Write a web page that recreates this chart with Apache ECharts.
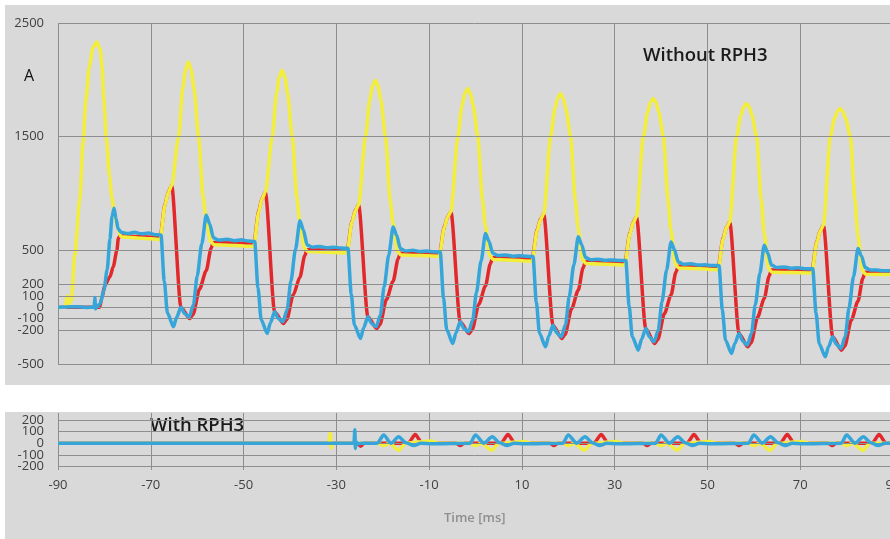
<!DOCTYPE html>
<html>
<head>
<meta charset="utf-8">
<title>RPH3</title>
<script src="https://cdn.jsdelivr.net/npm/echarts@6/dist/echarts.min.js"></script>
<style>
  html, body { margin: 0; padding: 0; background: #fff; }
  #main { width: 890px; height: 539px; }
</style>
</head>
<body>
<div id="main"></div>
<script>
// tick labels
var topTicks = [2500, 1500, 500, 200, 100, 0, -100, -200, -500];
var lowTicks = [200, 100, 0, -100, -200];

// Without RPH3 : [time ms, value]
var yellowTop = [
  [-90,0],[-88.4,0],[-88.0,100],[-87.6,30],[-87.1,60],[-86.4,450],[-85.3,950],[-84.6,1450],[-84.0,1820],[-83.25,2115],[-82.5,2280],[-81.65,2333],[-80.9,2270],[-80.5,2115],[-80.1,1820],[-79.6,1500],[-78.9,1150],[-78.4,970],[-77.8,800],[-77.0,677],[-76.4,620],[-72,607],
  [-68.0,595],[-66.9,904],[-66.2,1013],[-65.5,1070],[-64.0,1500],[-63.1,1927],[-62.5,2091],[-61.9,2157],[-61.3,2091],[-60.7,1927],[-59.7,1500],[-58.7,970],[-58.1,780],[-57.1,580],[-56.4,550],
  [-47.8,535],[-46.7,844],[-46.0,953],[-45.3,1010],[-43.8,1500],[-42.9,1880],[-42.3,2026],[-41.7,2084],[-41.1,2026],[-40.5,1880],[-39.5,1500],[-38.5,960],[-37.9,760],[-36.9,520],[-36.2,490],
  [-27.7,478],[-26.6,752],[-25.9,849],[-25.2,900],[-23.7,1500],[-22.8,1822],[-22.2,1946],[-21.6,1996],[-21.0,1946],[-20.4,1822],[-19.4,1500],[-18.4,950],[-17.8,740],[-16.8,490],[-16.1,460],
  [-7.8,448],[-6.7,703],[-6.0,793],[-5.3,840],[-3.8,1500],[-2.9,1775],[-2.3,1881],[-1.7,1923],[-1.1,1881],[-0.5,1775],[0.5,1500],[1.5,950],[2.1,720],[3.1,450],[3.8,420],
  [12.2,405],[13.3,675],[14.0,770],[14.7,820],[16.2,1500],[17.1,1746],[17.7,1841],[18.3,1879],[18.9,1841],[19.5,1746],[20.5,1500],[21.5,950],[22.1,700],[23.1,414],[23.8,384],
  [32.2,372],[33.3,647],[34.0,744],[34.7,795],[36.2,1500],[37.1,1718],[37.7,1802],[38.3,1835],[38.9,1802],[39.5,1718],[40.5,1500],[41.5,950],[42.1,680],[43.1,375],[43.8,345],
  [52.3,330],[53.4,603],[54.1,700],[54.8,750],[56.3,1500],[57.2,1689],[57.8,1762],[58.4,1791],[59.0,1762],[59.6,1689],[60.6,1500],[61.6,950],[62.2,660],[63.2,338],[63.9,308],
  [72.5,300],[73.6,573],[74.3,670],[75.0,720],[76.5,1500],[77.4,1661],[78.0,1722],[78.6,1747],[79.2,1722],[79.8,1661],[80.8,1500],[81.8,950],[82.4,640],[83.4,320],[84.1,290],[90,286]
];

var redTop = [
  [-90,0],[-81,0],[-80.5,90],[-79.9,193],[-78.8,267],[-78.1,355],[-77.3,501],[-77.0,604],[-76.6,628],[-72,620],
  [-68.0,612],[-66.9,910],[-66.2,1015],[-65.5,1070],[-63.5,0],[-61.6,-100],[-60.9,-65],[-59.5,157],[-58.05,321],[-57.0,518],[-56.5,570],
  [-47.8,560],[-46.7,853],[-46.0,956],[-45.3,1010],[-43.3,-41],[-41.4,-144],[-40.7,-109],[-39.3,106],[-37.85,264],[-36.8,454],[-36.3,505],
  [-27.7,498],[-26.6,759],[-25.9,852],[-25.2,900],[-23.2,-85],[-21.3,-188],[-20.6,-153],[-19.2,67],[-17.75,229],[-16.7,423],[-16.2,475],
  [-7.8,465],[-6.7,709],[-6.0,795],[-5.3,840],[-3.3,-129],[-1.4,-232],[-0.7,-197],[0.7,24],[2.15,187],[3.2,383],[3.7,435],
  [12.2,428],[13.3,683],[14.0,773],[14.7,820],[16.7,-158],[18.6,-276],[19.3,-241],[20.7,-16],[22.15,149],[23.2,347],[23.7,400],
  [32.2,392],[33.3,654],[34.0,747],[34.7,795],[36.7,-188],[38.6,-320],[39.3,-285],[40.7,-59],[42.15,107],[43.2,307],[43.7,360],
  [52.3,350],[53.4,610],[54.1,702],[54.8,750],[56.8,-231],[58.7,-349],[59.4,-314],[60.8,-89],[62.25,76],[63.3,275],[63.8,328],
  [72.5,320],[73.6,580],[74.3,672],[75.0,720],[77.0,-261],[78.9,-378],[79.6,-343],[81.0,-115],[82.45,53],[83.5,254],[84.0,308],[90,302]
];

var blueTop = [
  [-90,0],[-86,4],[-84,-3],[-82.2,0],[-82.05,85],[-81.9,-15],[-81.7,5],[-80.9,30],[-80.1,150],[-79.4,330],[-78.8,600],[-78.35,800],[-77.9,870],[-77.5,780],[-77.05,690],[-76.4,660],[-75,648],[-73.5,658],[-72,645],[-70.5,652],[-69,638],
  [-67.8,635],[-67.1,231],[-66.4,-52],[-65.1,-173],[-64.4,-87],[-63.5,0],[-62.7,-57],[-61.7,-85],[-60.8,22],[-60.0,273],[-59.0,559],[-58.05,809],[-57.3,732],[-56.5,610],[-55.4,590],[-53.5,598],[-52,585],[-50.5,594],[-49,582],
  [-47.6,578],[-46.9,174],[-46.2,-110],[-44.9,-231],[-44.2,-136],[-43.3,-41],[-42.5,-100],[-41.5,-129],[-40.6,-22],[-39.8,227],[-38.8,511],[-37.85,760],[-37.1,679],[-36.3,548],[-35.2,528],[-33.5,534],[-32,522],[-30.5,528],[-29,520],
  [-27.5,518],[-26.8,121],[-26.1,-157],[-24.8,-276],[-24.1,-180],[-23.2,-85],[-22.4,-144],[-21.4,-173],[-20.5,-68],[-19.7,179],[-18.7,460],[-17.75,706],[-17.0,632],[-16.2,515],[-15.1,495],[-13.5,500],[-12,490],[-10.5,494],[-9,487],
  [-7.6,485],[-6.9,82],[-6.2,-199],[-4.9,-320],[-4.2,-225],[-3.3,-129],[-2.5,-188],[-1.5,-217],[-0.6,-113],[0.2,129],[1.2,406],[2.15,648],[2.9,580],[3.7,475],[4.8,455],[6.5,460],[8,449],[9.5,453],[11,447],
  [12.4,445],[13.1,48],[13.8,-230],[15.1,-349],[15.8,-254],[16.7,-158],[17.5,-225],[18.5,-261],[19.4,-155],[20.2,91],[21.2,373],[22.15,619],[22.9,549],[23.7,438],[24.8,418],[26.5,422],[28,412],[29.5,416],[31,410],
  [32.4,410],[33.1,16],[33.8,-260],[35.1,-378],[35.8,-283],[36.7,-188],[37.5,-262],[38.5,-305],[39.4,-200],[40.2,47],[41.2,328],[42.15,574],[42.9,505],[43.7,398],[44.8,378],[46.5,382],[48,370],[49.5,373],[51,366],
  [52.5,365],[53.2,-21],[53.9,-291],[55.2,-407],[55.9,-319],[56.8,-231],[57.6,-297],[58.6,-334],[59.5,-229],[60.3,18],[61.3,299],[62.25,545],[63.0,477],[63.8,370],[64.9,350],[66.5,354],[68,343],[69.5,346],[71,339],
  [72.7,338],[73.4,-50],[74.1,-321],[75.4,-437],[76.1,-349],[77.0,-261],[77.8,-327],[78.8,-363],[79.7,-258],[80.5,-11],[81.5,270],[82.45,516],[83.2,450],[84.0,348],[85.1,328],[86.5,326],[88,321],[90,320]
];

// With RPH3
var yellowLow = [
  [-90,0],[-31.6,0],[-31.3,90],[-31.1,-40],[-30.8,0],[-21,0],[-19.8,-20],[-18.5,0],[-16.6,-60],[-15,0],[-9.7,20],[-8,0],
  [-1.2,0],[0,-20],[1.3,0],[3.5,-60],[5,0],[10.4,15],[12,0],
  [18.8,0],[20,-20],[21.3,0],[23.5,-60],[25,0],[30.3,15],[32,0],
  [38.8,0],[40,-20],[41.3,0],[43.5,-60],[45,0],[50.3,15],[52,0],
  [58.8,0],[60,-20],[61.3,0],[63.5,-60],[65,0],[70.3,15],[72,0],
  [78.8,0],[80,-20],[81.3,0],[83.5,-60],[85,0],[90,0]
];
var redLow = [
  [-90,0],[-25.5,0],[-24.8,-25],[-24.0,0],[-14.5,0],[-13.0,75],[-11.5,0],[-4.2,0],[-3.3,-20],[-2.4,0],
  [5.5,0],[7.0,75],[8.5,0],[16.0,0],[16.9,-20],[17.8,0],
  [25.5,0],[27.1,75],[28.6,0],[36.1,0],[37.0,-20],[37.9,0],
  [45.6,0],[47.1,75],[48.6,0],[55.9,0],[56.8,-20],[57.7,0],
  [65.7,0],[67.2,75],[68.7,0],[76.0,0],[76.9,-20],[77.8,0],
  [85.5,0],[87.0,75],[88.5,0],[90,0]
];
var blueLow = [
  [-90,0],[-26.2,0],[-26.0,115],[-25.9,-45],[-25.7,10],[-25.3,-5],[-24.5,0],[-21.2,0],[-19.8,70],[-18.2,0],[-16.6,55],[-15.0,5],[-13.3,-20],[-11.8,0],[-9.5,-5],
  [-1.2,0],[0.0,70],[1.8,0],[3.6,55],[5.2,5],[6.8,-20],[8.3,0],[10.5,-5],
  [18.8,0],[20.0,70],[21.8,0],[23.6,55],[25.2,5],[26.8,-20],[28.3,0],[30.5,-5],
  [38.8,0],[40.0,70],[41.8,0],[43.6,55],[45.2,5],[46.8,-20],[48.3,0],[50.5,-5],
  [58.8,0],[60.0,70],[61.8,0],[63.6,55],[65.2,5],[66.8,-20],[68.3,0],[70.5,-5],
  [78.8,0],[80.0,70],[81.8,0],[83.6,55],[85.2,5],[86.8,-20],[88.3,0],[90,0]
];

var YELLOW = '#f3ed3b', RED = '#e2282a', BLUE = '#36a6da', GRID = '#8e8e8e';
var FONT = '"Open Sans", "Noto Sans", sans-serif';

var myChart = echarts.init(document.getElementById('main'));

function lineSeries(name, data, color, axis, z) {
    return {
        name: name, type: 'line', data: data,
        xAxisIndex: axis, yAxisIndex: axis,
        showSymbol: false, smooth: 0.25, smoothMonotone: 'x',
        lineStyle: { color: color, width: 3.5 },
        z: z, animation: false
    };
}
function gridLines(axis, vals) {
    return {
        type: 'line', data: [], xAxisIndex: axis, yAxisIndex: axis, z: 1,
        markLine: {
            silent: true, symbol: 'none', animation: false,
            label: { show: false },
            lineStyle: { color: GRID, width: 1, type: 'solid' },
            data: vals.map(function (v) { return { yAxis: v }; })
        }
    };
}

var option = {
    backgroundColor: '#ffffff',
    animation: false,
    graphic: [
        { type: 'rect', z: -10, shape: { x: 5, y: 5, width: 890, height: 380 }, style: { fill: '#d9d9d9' } },
        { type: 'rect', z: -10, shape: { x: 5, y: 412, width: 890, height: 130 }, style: { fill: '#d9d9d9' } },
        { type: 'text', left: 24, top: 68, style: { text: 'A', font: '16px ' + FONT, fill: '#111' } },
        { type: 'text', left: 643, top: 46, style: { text: 'Without RPH3', font: '600 18.5px ' + FONT, fill: '#1a1a1a' } },
        { type: 'text', left: 150, top: 416, style: { text: 'With RPH3', font: '600 18.5px ' + FONT, fill: '#1a1a1a' } },
        { type: 'text', left: 444, top: 512, style: { text: 'Time [ms]', font: '600 13px ' + FONT, fill: '#8f8f8f' } }
    ],
    grid: [
        { left: 58, top: 23, width: 835, height: 341, outerBoundsMode: 'none' },
        { left: 58, top: 413, width: 835, height: 57, outerBoundsMode: 'none' }
    ],
    xAxis: [
        {
            gridIndex: 0, type: 'value', min: -90, max: 90, interval: 20,
            axisLine: { show: false }, axisTick: { show: false }, axisLabel: { show: false },
            splitLine: { show: true, lineStyle: { color: GRID, width: 1 } }
        },
        {
            gridIndex: 1, type: 'value', min: -90, max: 90, interval: 20,
            axisLine: { show: false }, axisTick: { show: false },
            axisLabel: { color: '#404040', fontSize: 13, fontFamily: FONT, margin: 9 },
            splitLine: { show: true, lineStyle: { color: GRID, width: 1 } }
        }
    ],
    yAxis: [
        {
            gridIndex: 0, type: 'value', min: -500, max: 2500, interval: 100,
            axisLine: { show: false }, axisTick: { show: false }, splitLine: { show: false },
            axisLabel: {
                color: '#404040', fontSize: 13, fontFamily: FONT, margin: 14,
                formatter: function (v) { return topTicks.indexOf(v) >= 0 ? String(v) : ''; }
            }
        },
        {
            gridIndex: 1, type: 'value', min: -230, max: 260, interval: 10,
            axisLine: { show: false }, axisTick: { show: false }, splitLine: { show: false },
            axisLabel: {
                color: '#404040', fontSize: 13, fontFamily: FONT, margin: 14, lineHeight: 11,
                formatter: function (v) { return lowTicks.indexOf(v) >= 0 ? String(v) : ''; }
            }
        }
    ],
    series: [
        gridLines(0, topTicks),
        gridLines(1, lowTicks),
        lineSeries('red', redTop, RED, 0, 3),
        lineSeries('yellow', yellowTop, YELLOW, 0, 4),
        lineSeries('blue', blueTop, BLUE, 0, 5),
        lineSeries('red', redLow, RED, 1, 3),
        lineSeries('yellow', yellowLow, YELLOW, 1, 4),
        lineSeries('blue', blueLow, BLUE, 1, 5)
    ]
};
myChart.setOption(option);
</script>
</body>
</html>
